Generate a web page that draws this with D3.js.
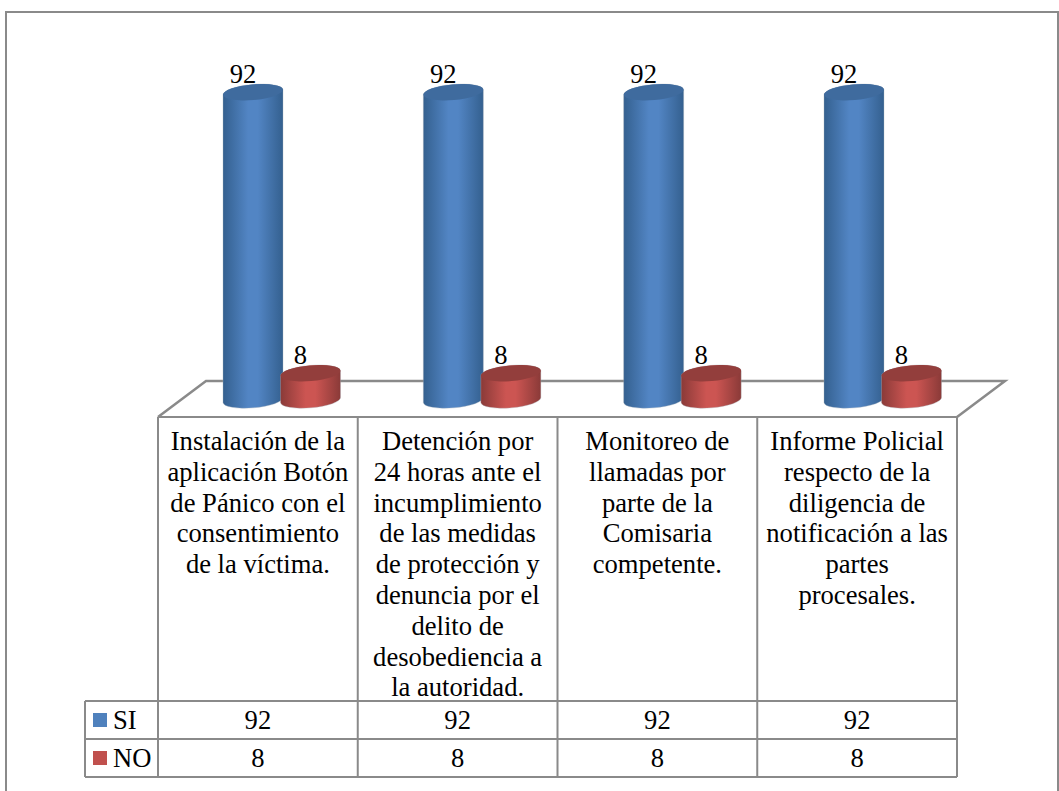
<!DOCTYPE html>
<html>
<head>
<meta charset="utf-8">
<script src="https://cdn.jsdelivr.net/npm/d3@7"></script>
<style>
  html, body { margin: 0; padding: 0; background: #fff; overflow: hidden; }
  svg { display: block; }
  text { font-family: "Liberation Serif", serif; fill: #000; }
</style>
</head>
<body>
<div id="chart"></div>
<script>
const categories = [
  ["Instalación de la", "aplicación Botón", "de Pánico con el", "consentimiento", "de la víctima."],
  ["Detención por", "24 horas ante el", "incumplimiento", "de las medidas", "de protección y", "denuncia por el", "delito de", "desobediencia a", "la autoridad."],
  ["Monitoreo de", "llamadas por", "parte de la", "Comisaria", "competente."],
  ["Informe Policial", "respecto de la", "diligencia de", "notificación a las", "partes", "procesales."]
];
const seriesNames = ["SI", "NO"];
const valuesSI = [92, 92, 92, 92];
const valuesNO = [8, 8, 8, 8];
const seriesValues = [valuesSI, valuesNO];

const width = 1059;
const height = 791;

const svg = d3.select("#chart").append("svg")
  .attr("width", width)
  .attr("height", height);

const lineColor = "#8a8a8a";
const fontSize = 26.6;

// outer frame runs off the bottom of the picture
svg.append("rect")
  .attr("x", 6).attr("y", 12)
  .attr("width", 1052).attr("height", 800)
  .attr("fill", "#fff")
  .attr("stroke", lineColor)
  .attr("stroke-width", 2);

const x = d3.scaleBand()
  .domain(d3.range(categories.length))
  .range([158, 957]);

// the cylinders sit on the floor, a bit off the table columns
const barX = d3.scalePoint()
  .domain(d3.range(categories.length))
  .range([253, 854]);

const seriesX = d3.scalePoint()
  .domain(seriesNames)
  .range([0, 57.5]);

const y = d3.scaleLinear()
  .domain([0, 100])
  .range([400, 65.5]);

const rx = 30;
const ry = 7.8;
const tilt = -5;

// gradients
const defs = svg.append("defs");
const colors = {
  SI: { edge: "#34608f", mid: "#5285c4", top: "#3f6b9e" },
  NO: { edge: "#8a3a38", mid: "#cc5552", top: "#933e3c" }
};
seriesNames.forEach(name => {
  const grad = defs.append("linearGradient")
    .attr("id", "side" + name)
    .attr("x1", "0%").attr("x2", "100%")
    .attr("y1", "0%").attr("y2", "0%");
  grad.append("stop").attr("offset", "0%").attr("stop-color", colors[name].edge);
  grad.append("stop").attr("offset", "42%").attr("stop-color", colors[name].mid);
  grad.append("stop").attr("offset", "58%").attr("stop-color", colors[name].mid);
  grad.append("stop").attr("offset", "100%").attr("stop-color", colors[name].edge);
});

// floor of the 3d plot
const floor = d3.line();
const floorLeft = x(0);
const floorRight = x.range()[1];
svg.append("path")
  .attr("d", floor([
    [floorLeft, 417], [floorLeft + 48, 381],
    [floorRight + 48, 381], [floorRight, 417]
  ]))
  .attr("fill", "#fff")
  .attr("stroke", lineColor)
  .attr("stroke-width", 2.5);

// cylinders
const dy = rx * Math.sin(tilt * Math.PI / 180);

function cylinderPath(cx, yTop, yBottom) {
  const l = cx - rx, r = cx + rx;
  return `M${l},${yTop - dy} L${l},${yBottom - dy}` +
    ` A${rx},${ry} ${tilt} 0 0 ${r},${yBottom + dy}` +
    ` L${r},${yTop + dy}` +
    ` A${rx},${ry} ${tilt} 0 0 ${l},${yTop - dy} Z`;
}

seriesNames.forEach((name, s) => {
  const bars = svg.append("g").selectAll("g")
    .data(seriesValues[s])
    .enter().append("g")
    .attr("transform", (d, i) => `translate(${barX(i) + seriesX(name)},0)`);

  bars.append("path")
    .attr("d", d => cylinderPath(0, y(d), y(0)))
    .attr("fill", `url(#side${name})`)
    .attr("stroke", "#a9b1bb")
    .attr("stroke-opacity", 0.5)
    .attr("stroke-width", 0.7);

  bars.append("ellipse")
    .attr("rx", rx)
    .attr("ry", ry)
    .attr("transform", d => `translate(0,${y(d)}) rotate(${tilt})`)
    .attr("fill", colors[name].top);

  bars.append("text")
    .attr("x", -10)
    .attr("y", d => y(d) - 9.5)
    .attr("text-anchor", "middle")
    .attr("font-size", fontSize)
    .text(d => d);
});

// data table
const rowTop = 417;
const rowHead = 701;
const rowSI = 739;
const rowNO = 777;
const legendLeft = 85;

const table = svg.append("g")
  .attr("fill", "none")
  .attr("stroke", lineColor)
  .attr("stroke-width", 2);

x.domain().concat(categories.length).forEach(i => {
  const xp = i < categories.length ? x(i) : x.range()[1];
  table.append("line")
    .attr("x1", xp).attr("x2", xp)
    .attr("y1", rowTop).attr("y2", rowNO);
});
[rowTop, rowHead, rowSI, rowNO].forEach((yp, i) => {
  table.append("line")
    .attr("x1", i === 0 ? x.range()[0] : legendLeft).attr("x2", x.range()[1])
    .attr("y1", yp).attr("y2", yp);
});
table.append("line")
  .attr("x1", legendLeft).attr("x2", legendLeft)
  .attr("y1", rowHead).attr("y2", rowNO);

// category labels
const lineHeight = 30.8;
const cat = svg.append("g").selectAll("text")
  .data(categories)
  .enter().append("text")
  .attr("text-anchor", "middle")
  .attr("font-size", fontSize);

cat.selectAll("tspan")
  .data((d, i) => d.map(t => ({ t, i })))
  .enter().append("tspan")
  .attr("x", d => x(d.i) + x.bandwidth() / 2)
  .attr("y", (d, j) => 450 + j * lineHeight)
  .text(d => d.t);

// legend and values of the table
const rows = d3.scalePoint()
  .domain(seriesNames)
  .range([rowHead + 19, rowSI + 19]);

seriesNames.forEach((name, s) => {
  svg.append("rect")
    .attr("x", 93)
    .attr("y", rows(name) - 7)
    .attr("width", 14)
    .attr("height", 14)
    .attr("fill", s === 0 ? "#4f81bd" : "#c0504d");

  svg.append("text")
    .attr("x", 113)
    .attr("y", rows(name) + 9)
    .attr("font-size", fontSize)
    .text(name);

  svg.append("g").selectAll("text")
    .data(seriesValues[s])
    .enter().append("text")
    .attr("x", (d, i) => x(i) + x.bandwidth() / 2)
    .attr("y", rows(name) + 9)
    .attr("text-anchor", "middle")
    .attr("font-size", fontSize)
    .text(d => d);
});
</script>
</body>
</html>
